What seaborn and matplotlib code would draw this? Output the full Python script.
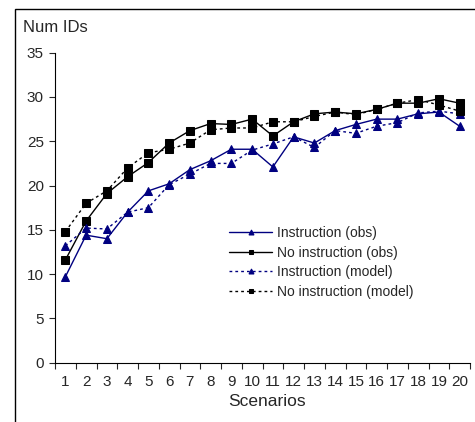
import pandas as pd
import matplotlib.pyplot as plt
import seaborn as sns
from matplotlib.patches import Rectangle

scenarios = list(range(1, 21))
instr_obs = [9.7, 14.4, 14.0, 17.0, 19.4, 20.2, 21.8, 22.8, 24.1, 24.1,
             22.1, 25.5, 24.8, 26.2, 26.9, 27.5, 27.5, 28.1, 28.3, 26.7]
noinstr_obs = [11.6, 16.0, 19.1, 21.0, 22.6, 24.8, 26.2, 27.0, 26.9, 27.5,
               25.6, 27.2, 28.1, 28.3, 28.1, 28.6, 29.3, 29.3, 29.8, 29.3]
instr_model = [13.2, 15.2, 15.1, 17.0, 17.5, 20.1, 21.3, 22.5, 22.5, 24.0,
               24.7, 25.5, 24.3, 26.2, 25.9, 26.7, 27.1, 28.2, 28.4, 28.1]
noinstr_model = [14.8, 18.0, 19.4, 22.0, 23.7, 24.1, 24.8, 26.3, 26.5, 26.5,
                 27.2, 27.2, 27.8, 28.3, 28.0, 28.6, 29.3, 29.7, 29.1, 28.4]

series_names = ["Instruction (obs)", "No instruction (obs)",
                "Instruction (model)", "No instruction (model)"]
series_vals = [instr_obs, noinstr_obs, instr_model, noinstr_model]
colors = ["#000080", "#000000", "#000080", "#000000"]
markers = ["^", "s", "^", "s"]
styles = ["-", "-", (0, (2, 2.2)), (0, (2, 2.2))]

sns.set_style("white")
plt.rcParams['font.family'] = ['Liberation Sans', 'DejaVu Sans']

fig = plt.figure(figsize=(4.75, 4.22), dpi=100)
ax = fig.add_axes([55 / 475, 1 - 362.7 / 422, 415 / 475, 310 / 422])

for name, vals, c, m, ls in zip(series_names, series_vals, colors, markers, styles):
    df = pd.DataFrame({"x": scenarios, "y": vals})
    sns.lineplot(data=df, x="x", y="y", ax=ax, color=c, marker=m,
                 linestyle=ls, linewidth=1.0, markersize=6,
                 markeredgecolor=c, markerfacecolor=c, label=name)

ax.set_xlim(0.5, 20.5)
ax.set_ylim(0, 35)
ax.set_yticks(range(0, 36, 5))
ax.set_xticks([i + 0.5 for i in range(0, 21)])
ax.set_xticklabels([])
ax.set_xticks(scenarios, minor=True)
ax.set_xticklabels([str(s) for s in scenarios], minor=True)
ax.tick_params(axis="x", which="major", direction="out", length=4, width=0.8, bottom=True)
ax.tick_params(axis="x", which="minor", length=0, pad=9, labelsize=11)
ax.tick_params(axis="y", direction="out", length=4, width=0.8, left=True, labelsize=11, pad=4)
for s in ["top", "right"]:
    ax.spines[s].set_visible(False)
for s in ["left", "bottom"]:
    ax.spines[s].set_color("black")
    ax.spines[s].set_linewidth(0.8)
ax.set_xlabel("")
ax.set_ylabel("")

fig.text(23 / 475, 1 - 28 / 422, "Num IDs", fontsize=12, va="center", ha="left")
fig.text(267 / 475, 1 - 402 / 422, "Scenarios", fontsize=12.5, va="center", ha="center")

leg = ax.legend(loc="upper left", bbox_to_anchor=(229 / 475, 1 - 226 / 422),
                bbox_transform=fig.transFigure, frameon=False, fontsize=10,
                handlelength=3.1, handletextpad=0.35, labelspacing=0.4,
                borderaxespad=0, borderpad=0, markerscale=0.6)

fig.patches.append(Rectangle((15 / 475, -0.1), 1.2, 1 - 9 / 422 + 0.1,
                             transform=fig.transFigure, fill=False,
                             edgecolor="black", linewidth=1.0, clip_on=False))

fig.savefig("out.png", dpi=100)
